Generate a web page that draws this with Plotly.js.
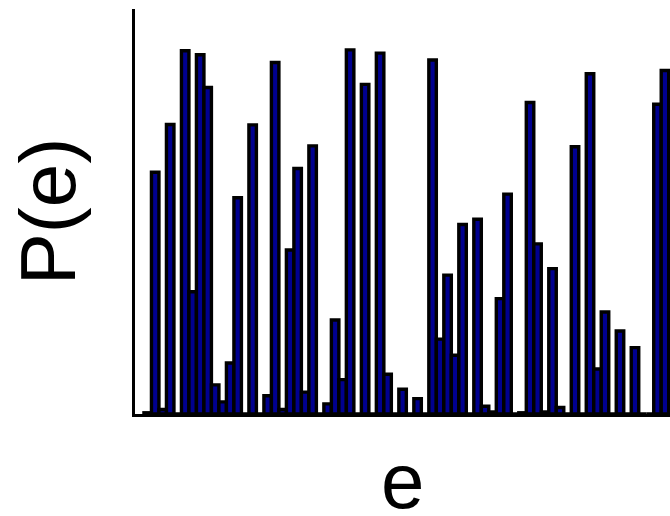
<!DOCTYPE html>
<html>
<head>
<meta charset="utf-8">
<script src="https://cdn.plot.ly/plotly-3.0.1.min.js"></script>
<style>html,body{margin:0;padding:0;background:#fff;}#chart{width:670px;height:516px;}</style>
</head>
<body>
<div id="chart"></div>
<script>
// Bin index of e
const eBins = [];
for (let i = 0; i < 70; i++) eBins.push(i);

// P(e) (arbitrary units, max ~0.9)
const pValues = [
  0.003, 0.597, 0.011, 0.715, 0.000, 0.897, 0.302, 0.887, 0.806, 0.072,
  0.030, 0.126, 0.534, 0.000, 0.714, 0.000, 0.045, 0.868, 0.011, 0.405,
  0.606, 0.054, 0.662, 0.000, 0.025, 0.232, 0.085, 0.899, 0.000, 0.814,
  0.000, 0.891, 0.098, 0.000, 0.061, 0.000, 0.038, 0.000, 0.874, 0.185,
  0.343, 0.145, 0.468, 0.000, 0.481, 0.019, 0.005, 0.285, 0.543, 0.000,
  0.003, 0.769, 0.420, 0.005, 0.359, 0.016, 0.000, 0.660, 0.000, 0.840,
  0.111, 0.252, 0.000, 0.205, 0.000, 0.164, 0.000, 0.000, 0.765, 0.848
];

const xTitle = "e";
const yTitle = "P(e)";

const trace = {
  type: "bar",
  x: eBins,
  y: pValues,
  marker: { color: "#00008f", line: { color: "#000000", width: 3.4 } },
  hoverinfo: "skip"
};

const layout = {
  width: 670,
  height: 516,
  margin: { l: 135, r: 0, t: 9, b: 102, pad: 0 },
  paper_bgcolor: "#ffffff",
  plot_bgcolor: "#ffffff",
  bargap: 0,
  showlegend: false,
  font: { family: "Liberation Sans, Arial, sans-serif", color: "#000" },
  xaxis: {
    range: [-1.694, 69.67],
    showgrid: false, zeroline: false,
    showticklabels: false, ticks: "",
    showline: true, linecolor: "#000", linewidth: 3,
    automargin: false
  },
  yaxis: {
    range: [0, 1],
    showgrid: false, zeroline: false,
    showticklabels: false, ticks: "",
    showline: true, linecolor: "#000", linewidth: 3,
    title: { text: yTitle, font: { size: 78, color: "#000" }, standoff: 31 },
    automargin: false
  },
  annotations: [{
    text: xTitle,
    xref: "paper", yref: "paper",
    x: 0.5, y: 0,
    xanchor: "center", yanchor: "top",
    yshift: -21,
    showarrow: false,
    font: { size: 78, color: "#000", family: "Liberation Sans, Arial, sans-serif" }
  }]
};

Plotly.newPlot("chart", [trace], layout, { staticPlot: true, displayModeBar: false });
</script>
</body>
</html>
